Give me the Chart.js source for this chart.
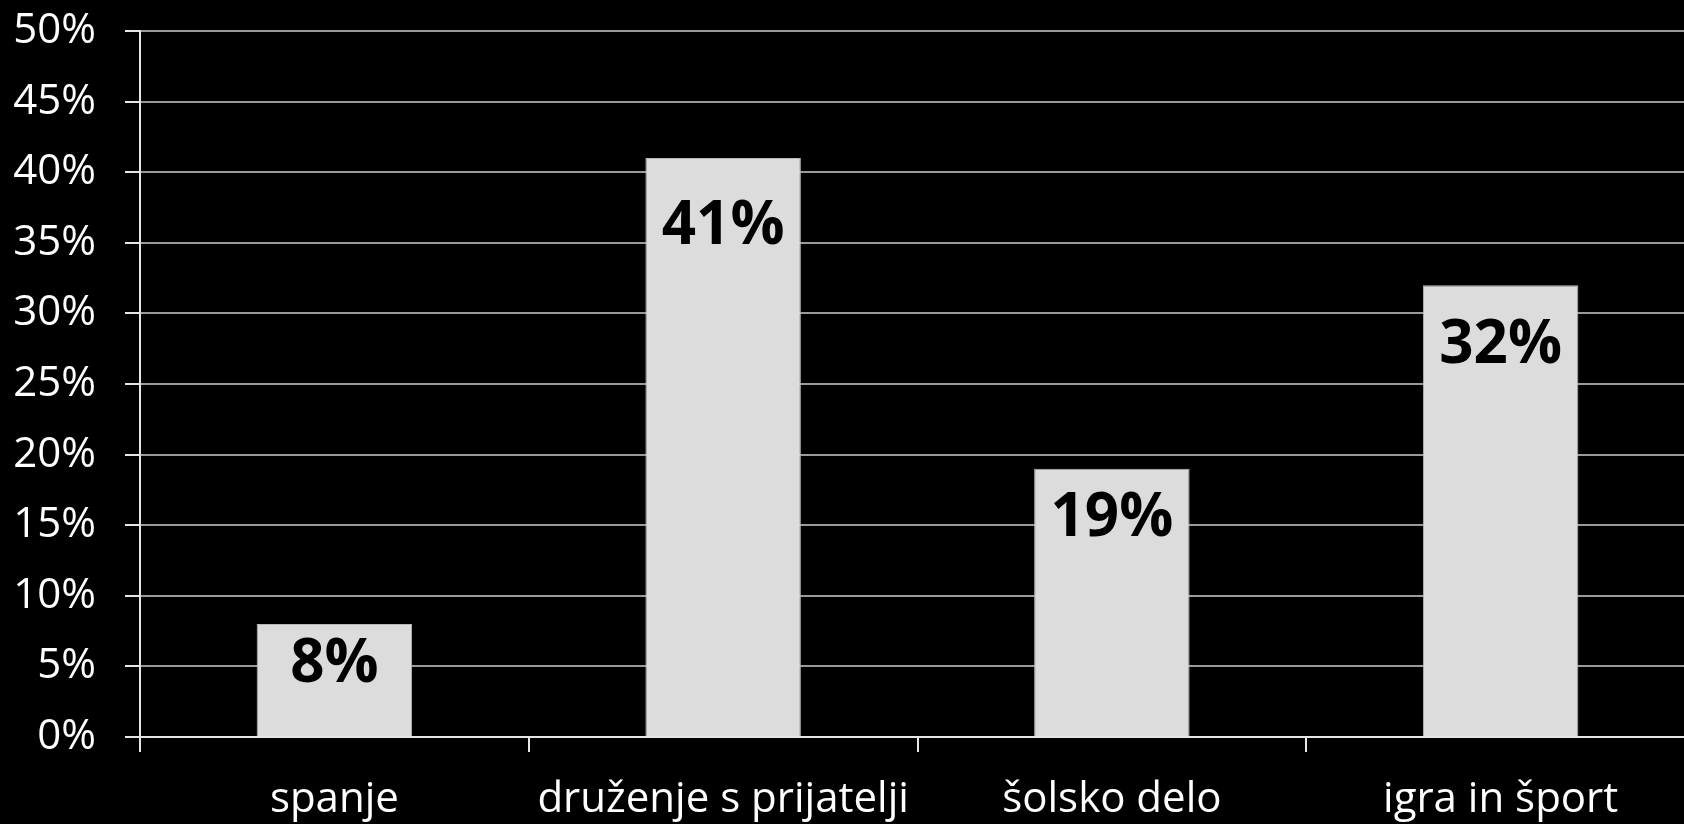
<!DOCTYPE html>
<html>
<head>
<meta charset="utf-8">
<script src="https://cdn.jsdelivr.net/npm/chart.js@4/dist/chart.umd.min.js"></script>
<style>
  html, body { margin: 0; padding: 0; background: #000; overflow: hidden; }
  /* the plot runs a little past the right edge, like the original slide */
  #wrap { width: 1684px; height: 824px; overflow: hidden; }
</style>
</head>
<body>
<div id="wrap"><canvas id="chart" width="1695" height="824"></canvas></div>
<script>
// data
let categories = ["spanje", "druženje s prijatelji", "šolsko delo", "igra in šport"];
let values = [8, 41, 19, 32];
let yTicks = [0, 5, 10, 15, 20, 25, 30, 35, 40, 45, 50];

// bold percentage written inside the top of each bar
let barLabels = {
    id: 'barLabels',
    afterDatasetsDraw(chart) {
        let ctx = chart.ctx;
        let meta = chart.getDatasetMeta(0);
        ctx.save();
        ctx.font = 'bold 60px "Open Sans"';
        ctx.fillStyle = '#000';
        ctx.textAlign = 'center';
        ctx.textBaseline = 'middle';
        meta.data.forEach((bar, i) => {
            let v = values[i];
            ctx.fillText(v + '%', bar.x, bar.y + 34 + v * 0.85);
        });
        ctx.restore();
    }
};

let ctx = document.getElementById('chart').getContext('2d');
let chart = new Chart(ctx, {
    type: 'bar',
    data: {
        labels: categories,
        datasets: [{
            data: values,
            backgroundColor: '#dcdcdc',
            borderColor: '#b8b8b8',
            borderWidth: 1,
            barPercentage: 0.4,
            categoryPercentage: 1
        }]
    },
    options: {
        responsive: false,
        animation: false,
        layout: { padding: { top: 31, right: 0, left: 0, bottom: 0 } },
        plugins: { legend: { display: false }, tooltip: { enabled: false } },
        scales: {
            y: {
                min: 0,
                max: 50,
                afterBuildTicks(scale) { scale.ticks = yTicks.map(v => ({ value: v })); },
                afterFit(scale) {
                    scale.width = 140;
                    scale.paddingTop = 0;
                    scale.paddingBottom = 0;
                },
                ticks: {
                    color: '#fff',
                    padding: 29,
                    font: { family: 'Open Sans', size: 42 },
                    callback: v => v + '%'
                },
                grid: { color: '#9a9a9a', lineWidth: 2, tickLength: 15, tickColor: '#e6e6e6' },
                border: { color: '#e6e6e6', width: 2 }
            },
            x: {
                afterFit(scale) {
                    scale.height = 87;
                    scale.paddingLeft = 0;
                    scale.paddingRight = 0;
                },
                ticks: {
                    color: '#fff',
                    padding: 23,
                    font: { family: 'Open Sans', size: 42 },
                    maxRotation: 0
                },
                grid: { drawOnChartArea: false, offset: true, tickLength: 15, tickColor: '#e6e6e6', lineWidth: 2 },
                border: { color: '#e6e6e6', width: 2 }
            }
        }
    },
    plugins: [barLabels]
});
</script>
</body>
</html>
